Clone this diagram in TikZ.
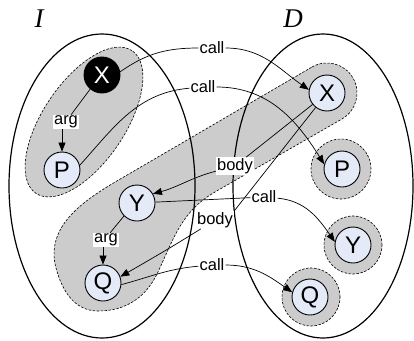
\documentclass[tikz,border=0pt]{standalone}
\usepackage{fontspec}
\setmainfont{Liberation Sans}
\newfontfamily\serifit{Liberation Serif}
\usetikzlibrary{arrows.meta}
\definecolor{nodefill}{RGB}{228,234,248}
\definecolor{halofill}{RGB}{204,204,204}
\begin{document}
\begin{tikzpicture}[x=1pt,y=1pt,
  nd/.style={circle,draw,line width=0.9pt,fill=nodefill,minimum size=36pt,inner sep=0pt,font=\fontsize{24}{24}\selectfont},
  lbl/.style={fill=white,inner sep=1pt,font=\fontsize{16.5}{16.5}\selectfont},
  halo/.style={draw,dash pattern=on 2.5pt off 1.5pt,line width=0.6pt,fill=halofill},
  conn/.style={line width=0.7pt},
  arr/.style={conn,-{Triangle[length=9pt,width=7pt]}},
  outer/.style={line width=1.2pt},
  setlbl/.style={font=\serifit\itshape\fontsize{27}{27}\selectfont}]
\useasboundingbox (0,0) rectangle (414,-340);
% shaded regions
\draw[halo,rotate around={56:(84,-122)}] (84,-122) ellipse[x radius=86,y radius=41];
\draw[halo] (312,-67) arc[start angle=120,end angle=-60,radius=30] -- (215,-192)
  to[out=210,in=65] (158,-272) to[out=245,in=0] (98,-311)
  to[out=180,in=285] (56,-268) to[out=105,in=210] (122,-178) -- cycle;
\draw[halo] (341,-169) circle[radius=30];
\draw[halo] (353,-245) circle[radius=29];
\draw[halo] (311,-297) circle[radius=29];
% domains
\draw[outer] (102,-186) ellipse[x radius=93,y radius=152];
\draw[outer] (323,-186) ellipse[x radius=90,y radius=152];
\node[setlbl] (lI) at (39,-19) {I};
\node[setlbl] (lD) at (293,-19) {D};
% nodes
\node[nd,fill=black,text=white] (XI) at (102,-75) {X};
\node[nd] (PI) at (62,-170) {P};
\node[nd] (YI) at (137,-203) {Y};
\node[nd] (QI) at (103,-283) {Q};
\node[nd] (XD) at (327,-93) {X};
\node[nd] (PD) at (342,-169) {P};
\node[nd] (YD) at (353,-245) {Y};
\node[nd] (QD) at (310,-297) {Q};
% labels
\node[lbl] (c1) at (212,-48) {call};
\node[lbl] (c2) at (203,-87) {call};
\node[lbl] (b1) at (235,-166) {body};
\node[lbl] (b2) at (215,-220) {body};
\node[lbl] (c3) at (264,-197) {call};
\node[lbl] (c4) at (212,-265) {call};
\node[lbl] (a1) at (66,-122) {arg};
\node[lbl] (a2) at (106,-240) {arg};
% connectors
\draw[conn] (XI.10) to[out=35,in=180] (c1);
\draw[arr] (c1) to[out=0,in=145] (XD.170);
\draw[conn] (PI.15) to[out=48,in=185] (c2);
\draw[arr] (c2) to[out=0,in=122] (PD.165);
\draw[conn] (XD) -- (b1);
\draw[arr] (b1) to[out=195,in=15] (YI.30);
\draw[conn] (XD) -- (b2.north east);
\draw[arr] (b2) to[out=212,in=30] (QI.20);
\draw[conn] (YI) -- (c3);
\draw[arr] (c3) to[out=-5,in=125] (YD.170);
\draw[conn] (QI.-5) to[out=15,in=185] (c4);
\draw[arr] (c4) to[out=0,in=145] (QD.165);
\draw[conn] (XI.230) -- (a1.55);
\draw[arr] (a1.south -| PI.north) -- (PI);
\draw[conn] (YI.225) -- (a2.60);
\draw[arr] (a2.south -| QI.north) -- (QI);
\end{tikzpicture}
\end{document}
